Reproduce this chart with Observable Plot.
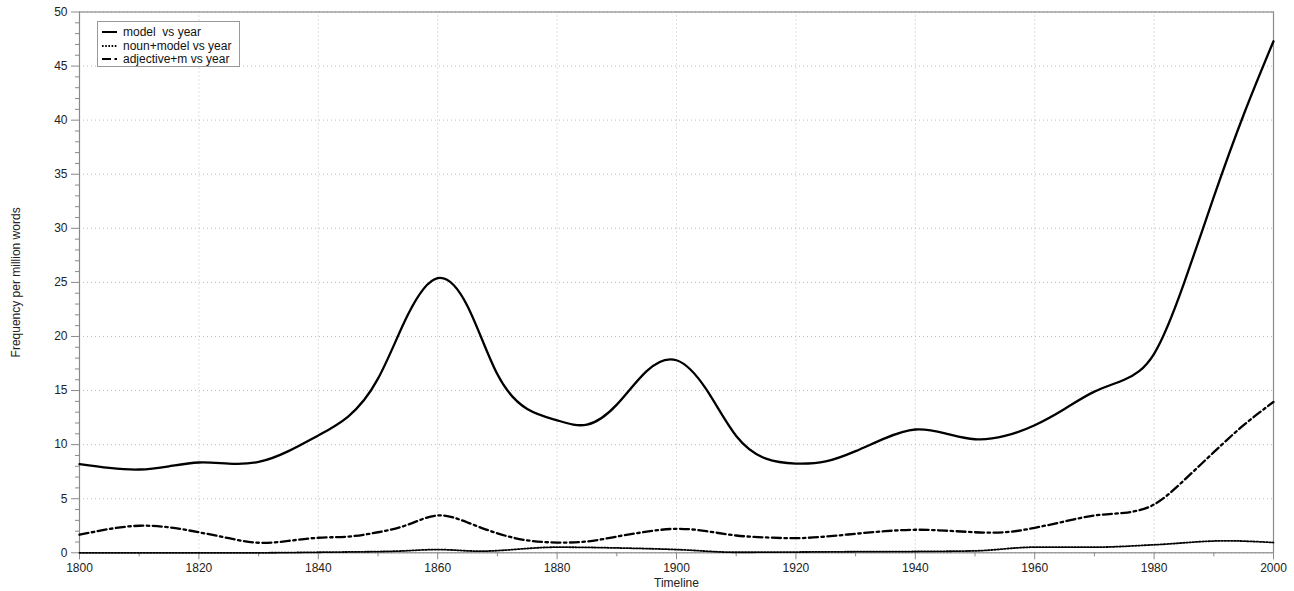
<!DOCTYPE html>
<html>
<head>
<meta charset="utf-8">
<script src="https://cdn.jsdelivr.net/npm/d3@7"></script>
<script src="https://cdn.jsdelivr.net/npm/@observablehq/plot@0.6"></script>
<style>
  html, body { margin: 0; padding: 0; background: #fff; }
  #wrap { position: relative; width: 1294px; height: 591px; font-family: "Liberation Sans", Arial, Helvetica, sans-serif; }
  #legend { position: absolute; left: 97px; top: 21px; width: 143px; height: 46px; border: 1px solid #999; background: #fff; font-size: 12px; color: #111; box-sizing: border-box; }
  #legend .row { position: absolute; left: 4px; height: 14px; display: flex; align-items: center; }
  #legend svg { margin-right: 5px; }
</style>
</head>
<body>
<div id="wrap"></div>
<script>
// Series: "model  vs year" (read every 5 years)
const modelYears = [1800,1805,1810,1815,1820,1825,1830,1835,1840,1845,1850,1855,1860,1865,1870,1875,1880,1885,1890,1895,1900,1905,1910,1915,1920,1925,1930,1935,1940,1945,1950,1955,1960,1965,1970,1975,1980,1985,1990,1995,2000];
const modelValues = [8.2,7.85,7.7,8.0,8.35,8.25,8.4,9.4,10.85,12.6,16.1,22.0,25.4,22.8,16.5,13.3,12.25,11.85,13.7,16.8,17.8,15.1,10.8,8.7,8.25,8.45,9.4,10.6,11.4,11.05,10.5,10.8,11.8,13.3,14.9,16.0,18.4,24.9,32.9,40.5,47.3];

// Series: "noun+model vs year"
const nounYears = [1800,1830,1840,1853,1860,1867,1880,1890,1900,1910,1920,1930,1940,1950,1960,1970,1980,1992,2000];
const nounValues = [0,0,0.05,0.15,0.3,0.15,0.52,0.45,0.3,0.05,0.07,0.1,0.12,0.18,0.52,0.52,0.74,1.11,0.95];

// Series: "adjective+m vs year" (read every 5 years)
const adjYears = [1800,1805,1810,1815,1820,1825,1830,1835,1840,1845,1850,1855,1860,1865,1870,1875,1880,1885,1890,1895,1900,1905,1910,1915,1920,1925,1930,1935,1940,1945,1950,1955,1960,1965,1970,1975,1980,1985,1990,1995,2000];
const adjValues = [1.67,2.2,2.5,2.35,1.9,1.35,0.93,1.1,1.39,1.5,1.9,2.6,3.45,2.8,1.8,1.15,0.95,1.05,1.5,1.95,2.22,2.0,1.6,1.42,1.35,1.5,1.76,2.0,2.13,2.05,1.9,1.9,2.31,2.9,3.45,3.7,4.47,6.7,9.3,11.8,13.95];

const seriesNames = ["model  vs year", "noun+model vs year", "adjective+m vs year"];

// Axis ticks
const xMajorTicks = [1800,1820,1840,1860,1880,1900,1920,1940,1960,1980,2000];
const xMinorTicks = [1810,1830,1850,1870,1890,1910,1930,1950,1970,1990];
const yMajorTicks = [0,5,10,15,20,25,30,35,40,45,50];
const yMinorTicks = d3.range(0, 51, 1).filter(v => v % 5 !== 0);

const toRows = (ys, vs) => ys.map((year, i) => ({year, value: vs[i]}));
const model = toRows(modelYears, modelValues);
const noun = toRows(nounYears, nounValues);
const adj = toRows(adjYears, adjValues);

const axisColor = "#8a8a8a";
const gridStyle = {stroke: "#bdbdbd", strokeOpacity: 1, strokeDasharray: "1,3", strokeWidth: 1};
const dotted = "1.6,1.6";
const dashDot = "9,3.5,2.5,3.5";

const chart = Plot.plot({
  width: 1294,
  height: 591,
  marginLeft: 79,
  marginRight: 21,
  marginTop: 11.5,
  marginBottom: 38.7,
  style: {fontFamily: "'Liberation Sans', Arial, Helvetica, sans-serif", fontSize: "12px", color: "#222", background: "#fff"},
  x: {domain: [1800, 2000]},
  y: {domain: [0, 50]},
  marks: [
    Plot.gridX(xMajorTicks, gridStyle),
    Plot.gridY(yMajorTicks, gridStyle),
    Plot.frame({stroke: axisColor, strokeWidth: 1.2}),
    Plot.axisX(xMinorTicks, {tickSize: 4, text: null, stroke: axisColor, label: null}),
    Plot.axisX(xMajorTicks, {tickSize: 7, tickPadding: 4, stroke: axisColor, tickFormat: d3.format("d"), label: "Timeline", labelAnchor: "center", labelArrow: "none", labelOffset: 34.5, fill: "#222"}),
    Plot.axisY(yMinorTicks, {tickSize: 4, text: null, stroke: axisColor, label: null}),
    Plot.axisY(yMajorTicks, {tickSize: 8, tickPadding: 4, stroke: axisColor, label: "Frequency per million words", labelAnchor: "center", labelArrow: "none", labelOffset: 68, fill: "#222"}),
    Plot.lineY(noun, {x: "year", y: "value", stroke: "#000", strokeWidth: 1.8, strokeDasharray: dotted, curve: "monotone-x"}),
    Plot.lineY(adj, {x: "year", y: "value", stroke: "#000", strokeWidth: 2.3, strokeDasharray: dashDot, curve: "natural"}),
    Plot.lineY(model, {x: "year", y: "value", stroke: "#000", strokeWidth: 2.3, curve: "natural"})
  ]
});

const wrap = document.getElementById("wrap");
wrap.appendChild(chart);

// Legend (inside plot area, top-left)
const legend = document.createElement("div");
legend.id = "legend";
const dashes = ["", dotted, dashDot];
seriesNames.forEach((name, i) => {
  const row = document.createElement("div");
  row.className = "row";
  row.style.top = (3 + i * 13.5) + "px";
  row.innerHTML = `<svg width="16" height="6"><line x1="0" y1="3" x2="15" y2="3" stroke="#000" stroke-width="2" ${dashes[i] ? `stroke-dasharray="${dashes[i]}"` : ""}/></svg><span>${name.replace(/  /g, "&nbsp; ")}</span>`;
  legend.appendChild(row);
});
wrap.appendChild(legend);
</script>
</body>
</html>
